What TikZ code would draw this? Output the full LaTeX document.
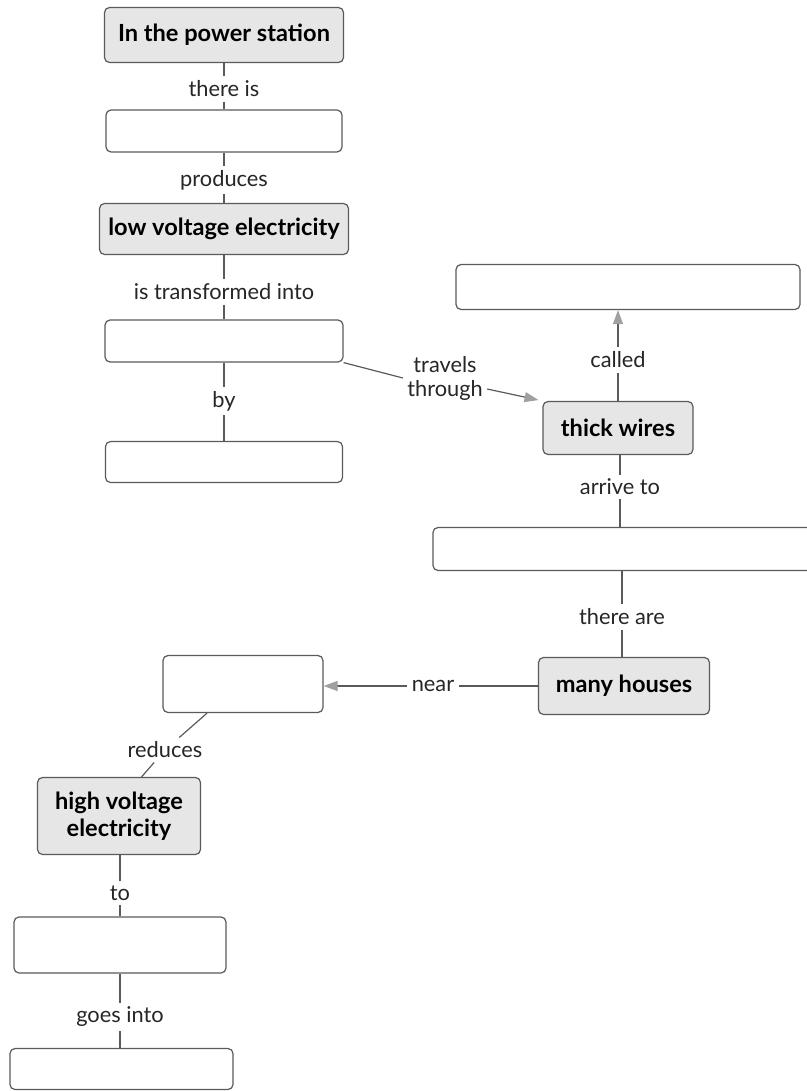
\documentclass[tikz,border=0pt]{standalone}
\usepackage{fontspec}
\setmainfont{Lato}
\usetikzlibrary{positioning, arrows.meta}
\definecolor{conceptgray}{HTML}{E6E6E6}
\definecolor{linegray}{HTML}{5A5A5A}
\definecolor{tipgray}{HTML}{A0A0A0}

\begin{document}
\begin{tikzpicture}[x=0.5pt, y=-0.5pt,
  concept/.style={draw=linegray, fill=conceptgray, rounded corners=2.5pt, line width=0.6pt,
                  font=\fontsize{11.8}{13.5}\selectfont\bfseries, align=center, inner sep=0pt},
  blank/.style={concept, fill=white},
  link/.style={font=\fontsize{10.9}{12}\selectfont, align=center, inner sep=2pt, text=black!85},
  conn/.style={draw=linegray, line width=0.6pt},
  arr/.style={conn, -{Triangle[length=7pt, width=5pt, color=tipgray, fill=tipgray]}}]
  \useasboundingbox (0,0) rectangle (807,1091);

  % concepts
  \node[concept, minimum width=119.5pt, minimum height=27.5pt] (station) at (224,35) {In the power station};
  \node[blank, minimum width=118pt, minimum height=21pt] (box2) at (224,131) {};
  \node[concept, minimum width=124.5pt, minimum height=25.5pt] (low) at (224,229) {low voltage electricity};
  \node[blank, minimum width=119pt, minimum height=21pt] (box4) at (224,341) {};
  \node[blank, minimum width=118.5pt, minimum height=20.5pt] (box5) at (224,462) {};
  \node[blank, minimum width=172pt, minimum height=22.5pt] (box6) at (628,287) {};
  \node[concept, minimum width=75pt, minimum height=26.5pt] (wires) at (618,428) {thick wires};
  \node[blank, minimum width=191pt, minimum height=21.5pt] (box8) at (624,549) {};
  \node[concept, minimum width=85.5pt, minimum height=28.5pt] (houses) at (624,686) {many houses};
  \node[blank, minimum width=80pt, minimum height=28.5pt] (box10) at (243,684) {};
  \node[concept, minimum width=81.5pt, minimum height=38.5pt] (high) at (119,816) {high voltage\\electricity};
  \node[blank, minimum width=106pt, minimum height=28pt] (box12) at (120,945) {};
  \node[blank, minimum width=111.5pt, minimum height=20.5pt] (box13) at (121.5,1069) {};

  % linking words
  \node[link] (thereis) at (224,89) {there is};
  \node[link] (produces) at (224,180) {produces};
  \node[link] (transformed) at (224,292) {is transformed into};
  \node[link] (by) at (224,401) {by};
  \node[link] (travels) at (445,378) {travels\\through};
  \node[link] (called) at (618,360) {called};
  \node[link] (arrive) at (620,487) {arrive to};
  \node[link] (thereare) at (622,617) {there are};
  \node[link] (near) at (433,686) {near};
  \node[link] (reduces) at (165,750) {reduces};
  \node[link] (to) at (120,893) {to};
  \node[link] (goesinto) at (120,1017) {goes into};

  % connectors
  \draw[conn] (station) -- (thereis);
  \draw[conn] (thereis) -- (box2);
  \draw[conn] (box2) -- (produces);
  \draw[conn] (produces) -- (low);
  \draw[conn] (low) -- (transformed);
  \draw[conn] (transformed) -- (box4);
  \draw[conn] (box4) -- (by);
  \draw[conn] (by) -- (box5);
  \draw[conn] (box4.south east) -- (travels.west);
  \draw[arr, shorten >=2pt] ([yshift=-5.5pt]travels.east) -- (wires.north west);
  \draw[conn] (wires) -- (called);
  \draw[arr] (called) -- (called |- box6.south);
  \draw[conn] (arrive |- wires.south) -- (arrive);
  \draw[conn] (arrive) -- (arrive |- box8.north);
  \draw[conn] (thereare |- box8.south) -- (thereare);
  \draw[conn] (thereare) -- (thereare |- houses.north);
  \draw[conn] (houses) -- (near);
  \draw[arr] (near) -- (near -| box10.east);
  \draw[conn] (box10.219) -- (reduces);
  \draw[conn] (reduces) -- (high.60);
  \draw[conn] (to |- high.south) -- (to);
  \draw[conn] (to) -- (to |- box12.north);
  \draw[conn] (goesinto |- box12.south) -- (goesinto);
  \draw[conn] (goesinto) -- (goesinto |- box13.north);
\end{tikzpicture}
\end{document}
